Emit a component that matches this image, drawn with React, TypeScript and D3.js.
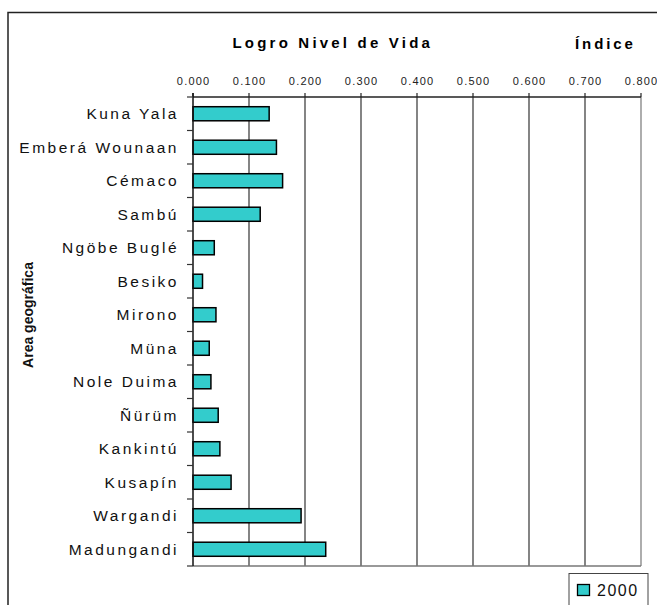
import React from "react";
import * as d3 from "d3";

const categories = [
  "Kuna Yala",
  "Emberá Wounaan",
  "Cémaco",
  "Sambú",
  "Ngöbe Buglé",
  "Besiko",
  "Mirono",
  "Müna",
  "Nole Duima",
  "Ñürüm",
  "Kankintú",
  "Kusapín",
  "Wargandi",
  "Madungandi",
];
const values2000 = [0.136, 0.149, 0.16, 0.12, 0.038, 0.017, 0.041, 0.029, 0.032, 0.045, 0.048, 0.068, 0.193, 0.237];
const xTicks = [0, 0.1, 0.2, 0.3, 0.4, 0.5, 0.6, 0.7, 0.8];
const seriesName = "2000";

const FONT = "'Liberation Sans', Arial, sans-serif";
const BAR = "#33CCCC";

export default function App() {
  const W = 657;
  const H = 605;
  const left = 193;
  const right = 641;
  const top = 97;
  const bottom = 566;

  const x = d3.scaleLinear().domain([0, 0.8]).range([left, right]);
  const y = d3.scaleBand<string>().domain(categories).range([top, bottom]).paddingInner(0.58).paddingOuter(0.29);
  const step = y.step();
  const fmt = d3.format(".3f");

  return (
    <svg
      width={W}
      height={H}
      style={{ position: "absolute", left: 0, top: 0, background: "#fff" }}
      fontFamily={FONT}
    >
      <rect x={8} y={12.5} width={W + 10} height={H} fill="#fff" stroke="#222" strokeWidth={1.5} />

      <text x={232.5} y={47.5} fontSize={15} fontWeight="bold" letterSpacing={3.2} fill="#000">
        Logro Nivel de Vida
      </text>
      <text x={575} y={48.5} fontSize={15} fontWeight="bold" letterSpacing={2.9} fill="#000">
        Índice
      </text>

      {/* gridlines */}
      {xTicks.map((t, i) =>
        i === 0 ? null : (
          <line key={"g" + i} x1={x(t)} x2={x(t)} y1={top} y2={bottom} stroke={i === 8 ? "#777" : "#333"} strokeWidth={1.2} />
        )
      )}

      {/* top axis */}
      <line x1={left} x2={right} y1={top} y2={top} stroke="#222" strokeWidth={1.5} />
      {xTicks.map((t, i) => (
        <g key={"t" + i}>
          <line x1={x(t)} x2={x(t)} y1={top - 4} y2={top} stroke="#222" strokeWidth={1.2} />
          <text x={x(t) + 0.6} y={85} textAnchor="middle" fontSize={11} letterSpacing={1.2} fill="#222">
            {fmt(t)}
          </text>
        </g>
      ))}

      {/* bottom axis */}
      <line x1={left} x2={right} y1={bottom} y2={bottom} stroke="#777" strokeWidth={1.5} />

      {/* bars */}
      {categories.map((c, i) => (
        <rect
          key={c}
          x={x(0)}
          y={y(c)}
          width={x(values2000[i]) - x(0)}
          height={y.bandwidth()}
          fill={BAR}
          stroke="#000"
          strokeWidth={1.5}
        />
      ))}

      {/* left axis */}
      <line x1={left} x2={left} y1={top - 4} y2={bottom} stroke="#111" strokeWidth={1.5} />
      {d3.range(categories.length + 1).map((i) => (
        <line key={"lt" + i} x1={left - 6} x2={left} y1={top + i * step} y2={top + i * step} stroke="#333" strokeWidth={1.2} />
      ))}
      {categories.map((c) => (
        <text
          key={"l" + c}
          x={179}
          y={(y(c) as number) + y.bandwidth() / 2}
          dy="0.36em"
          textAnchor="end"
          fontSize={15.5}
          letterSpacing={2.5}
          fill="#111"
        >
          {c}
        </text>
      ))}

      <text
        transform={`translate(33,315) rotate(-90)`}
        textAnchor="middle"
        fontSize={14}
        fontWeight="bold"
        fill="#111"
      >
        Area geográfica
      </text>

      {/* legend */}
      <rect x={569} y={573.5} width={79} height={45} fill="#fff" stroke="#444" strokeWidth={1} />
      <rect x={577.5} y={584.5} width={12} height={11} fill={BAR} stroke="#000" strokeWidth={1.3} />
      <text x={597} y={595.5} fontSize={16} letterSpacing={1.5} fill="#111">
        {seriesName}
      </text>
    </svg>
  );
}
